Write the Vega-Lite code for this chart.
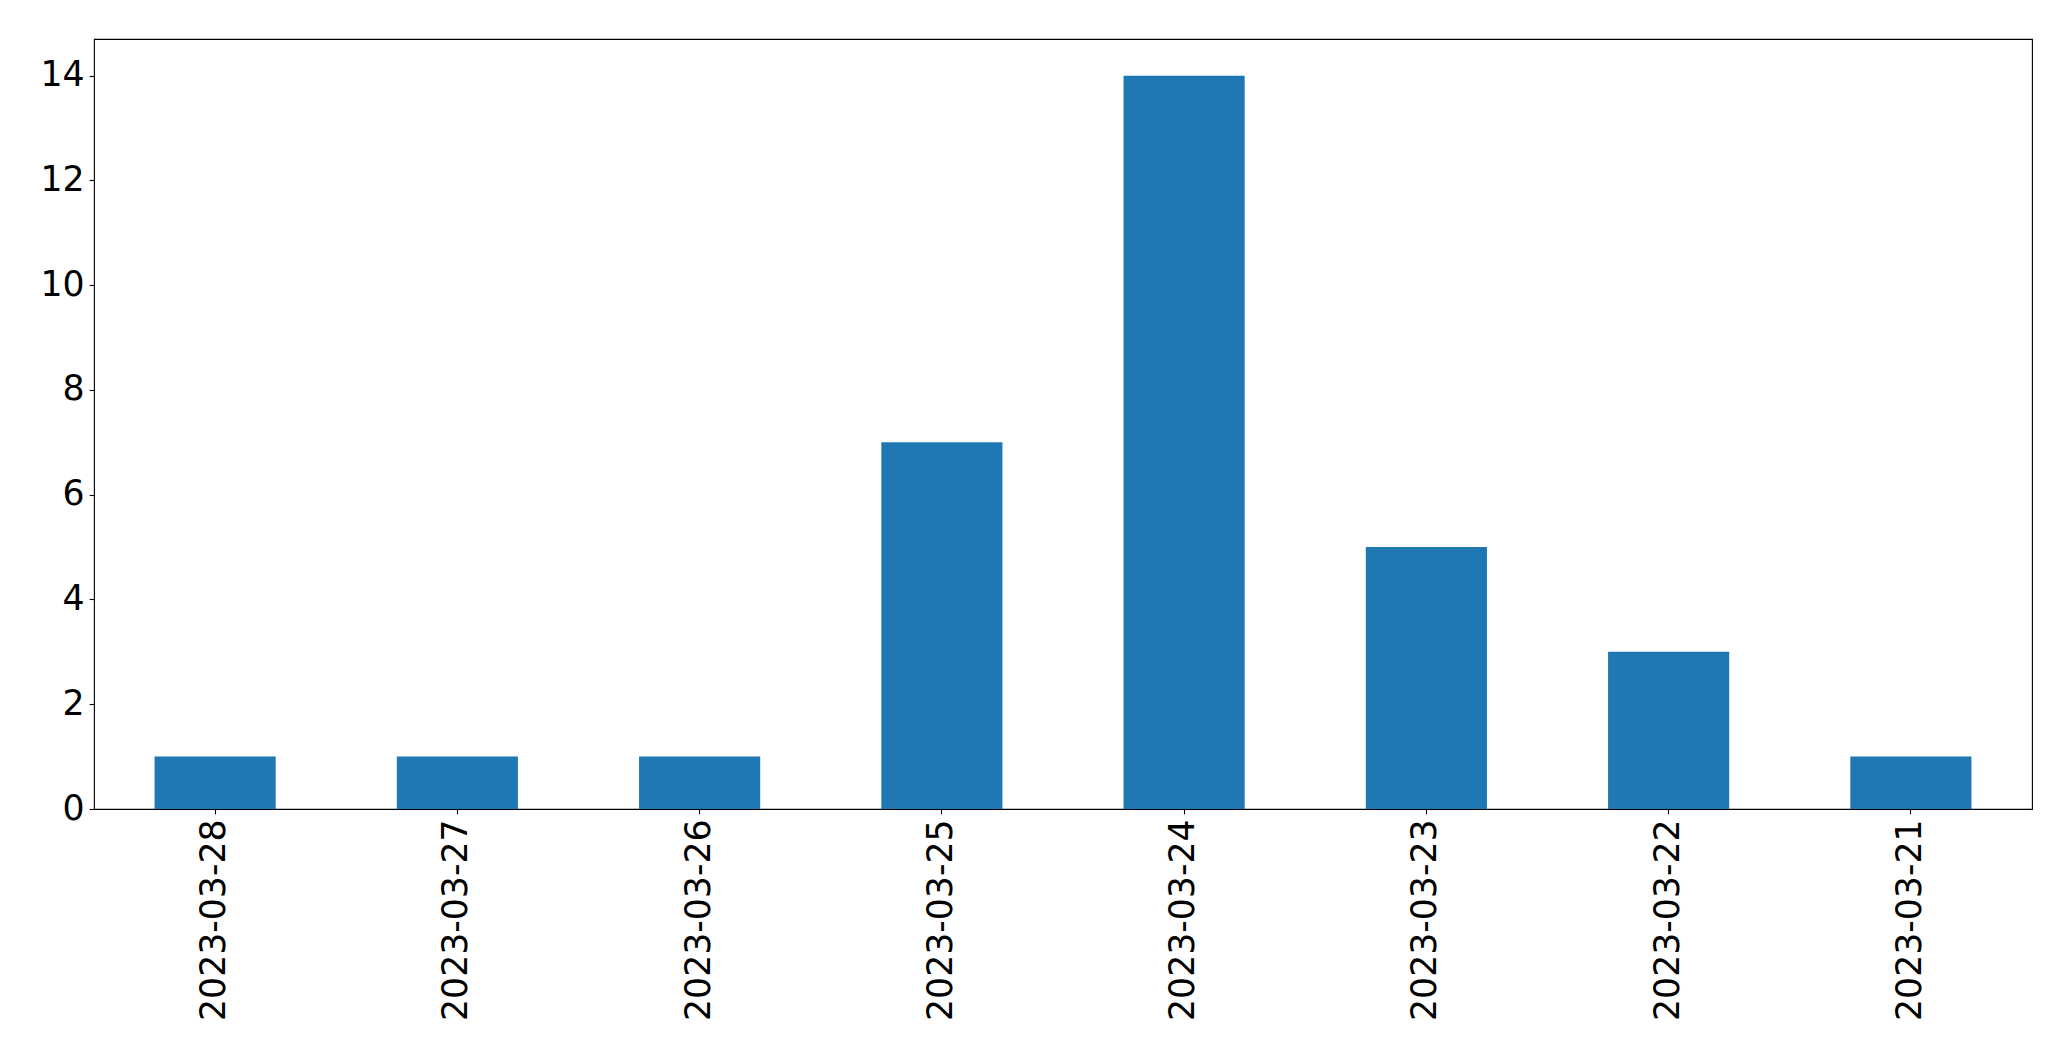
{
  "$schema": "https://vega.github.io/schema/vega-lite/v6.json",
  "width": 1938,
  "height": 770,
  "autosize": {"type": "none"},
  "padding": {"left": 94, "top": 39, "right": 39, "bottom": 252},
  "background": "white",
  "data": {
    "values": [
      {"date": "2023-03-28", "count": 1},
      {"date": "2023-03-27", "count": 1},
      {"date": "2023-03-26", "count": 1},
      {"date": "2023-03-25", "count": 7},
      {"date": "2023-03-24", "count": 14},
      {"date": "2023-03-23", "count": 5},
      {"date": "2023-03-22", "count": 3},
      {"date": "2023-03-21", "count": 1}
    ]
  },
  "mark": {"type": "bar", "color": "#1f77b4"},
  "encoding": {
    "x": {
      "field": "date",
      "type": "nominal",
      "sort": null,
      "title": null,
      "scale": {"paddingInner": 0.5, "paddingOuter": 0.25},
      "axis": {"labelAngle": 270, "labelAlign": "right", "labelBaseline": "middle", "labelPadding": 5, "domain": false}
    },
    "y": {
      "field": "count",
      "type": "quantitative",
      "title": null,
      "scale": {"domain": [0, 14.7], "nice": false, "zero": true},
      "axis": {"values": [0, 2, 4, 6, 8, 10, 12, 14], "labelPadding": 5, "domain": false}
    }
  },
  "config": {
    "view": {"stroke": "black", "strokeWidth": 1.1},
    "axis": {
      "grid": false,
      "labelFont": "DejaVu Sans",
      "labelFontSize": 34.7,
      "labelColor": "black",
      "tickColor": "black",
      "tickSize": 4.9,
      "tickWidth": 1.1,
      "labelOverlap": false,
      "labelFlush": false,
      "labelLimit": 0
    }
  }
}
